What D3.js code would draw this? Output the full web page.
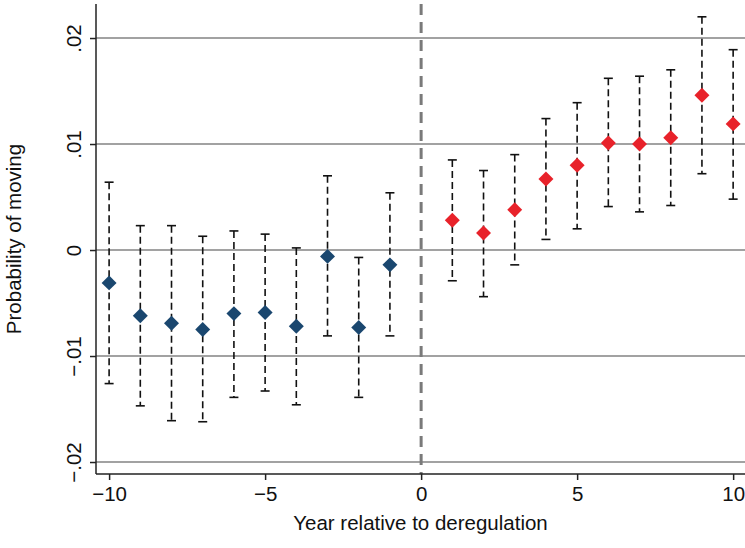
<!DOCTYPE html>
<html>
<head>
<meta charset="utf-8">
<script src="https://cdn.jsdelivr.net/npm/d3@7"></script>
<style>
  body { margin: 0; background: #fff; }
  text { font-family: "Liberation Sans", Arial, Helvetica, sans-serif; }
</style>
</head>
<body>
<div class="chart"></div>
<script>
// leads (before deregulation) and lags (after)
const preYears = [-10, -9, -8, -7, -6, -5, -4, -3, -2, -1];
const preCoef  = [-0.0031, -0.0062, -0.0069, -0.0075, -0.0060, -0.0059, -0.0072, -0.0006, -0.0073, -0.0014];
const preLo    = [-0.0126, -0.0147, -0.0161, -0.0162, -0.0139, -0.0133, -0.0146, -0.0081, -0.0139, -0.0081];
const preHi    = [ 0.0064,  0.0023,  0.0023,  0.0013,  0.0018,  0.0015,  0.0002,  0.0070, -0.0007,  0.0054];

const postYears = [1, 2, 3, 4, 5, 6, 7, 8, 9, 10];
const postCoef  = [0.0028, 0.0016, 0.0038, 0.0067, 0.0080, 0.0101, 0.0100, 0.0106, 0.0146, 0.0119];
const postLo    = [-0.0029, -0.0044, -0.0014, 0.0010, 0.0020, 0.0041, 0.0036, 0.0042, 0.0072, 0.0048];
const postHi    = [0.0085, 0.0075, 0.0090, 0.0124, 0.0139, 0.0162, 0.0164, 0.0170, 0.0220, 0.0189];

const xTicks = [-10, -5, 0, 5, 10];
const yTicks = [-0.02, -0.01, 0, 0.01, 0.02];
const yTickLabels = ["\u2212.02", "\u2212.01", "0", ".01", ".02"];

const W = 745, H = 548;
const margin = ({top: 4, right: 0, bottom: 74, left: 96});
const width = W - margin.left - margin.right;
const height = H - margin.top - margin.bottom;

const xScale = d3.scaleLinear().domain([-10.42, 10.38]).range([0, width]);
const yScale = d3.scaleLinear().domain([-0.02113, 0.02321]).range([height, 0]);

const svg = d3.select('.chart').append('svg')
    .attr('width', W).attr('height', H)
    .append('g')
    .attr('transform', `translate(${margin.left},${margin.top})`);

// gridlines
svg.selectAll('.grid').data(yTicks).enter().append('line')
    .attr('x1', 0).attr('x2', width)
    .attr('y1', d => yScale(d)).attr('y2', d => yScale(d))
    .attr('stroke', '#a2a2a2').attr('stroke-width', 2);

// deregulation line
svg.append('line')
    .attr('x1', xScale(0)).attr('x2', xScale(0))
    .attr('y1', 0).attr('y2', height)
    .attr('stroke', '#7a7a7a').attr('stroke-width', 3)
    .attr('stroke-dasharray', '11,7');

// axes
const xAxis = d3.axisBottom(xScale).tickValues(xTicks).tickSize(6).tickPadding(6)
    .tickFormat(d => d < 0 ? '\u2212' + Math.abs(d) : d);
const yAxis = d3.axisLeft(yScale).tickValues(yTicks).tickSize(6)
    .tickFormat((d, i) => yTickLabels[i]);

const gx = svg.append('g').attr('transform', `translate(0,${height})`).call(xAxis);
gx.select('.domain').attr('d', `M0,0H${width}`).attr('stroke', '#222').attr('stroke-width', 1.5);
gx.selectAll('.tick line').attr('stroke', '#222').attr('stroke-width', 1.5);
gx.selectAll('.tick text').attr('font-size', 20.5).attr('fill', '#111')
    .attr('font-family', '"Liberation Sans", Arial, sans-serif');

const gy = svg.append('g').call(yAxis);
gy.select('.domain').attr('d', `M0,0V${height}`).attr('stroke', '#222').attr('stroke-width', 1.5);
gy.selectAll('.tick line').attr('stroke', '#222').attr('stroke-width', 1.5);
gy.selectAll('.tick text')
    .attr('font-size', 20.5).attr('fill', '#111')
    .attr('font-family', '"Liberation Sans", Arial, sans-serif')
    .attr('x', null).attr('dy', null)
    .attr('text-anchor', 'middle')
    .attr('transform', 'translate(-15,0) rotate(-90)');

// axis titles
svg.append('text')
    .attr('x', width / 2)
    .attr('y', height + 56)
    .attr('text-anchor', 'middle')
    .attr('font-size', 20.5).attr('fill', '#111')
    .text('Year relative to deregulation');

svg.append('text')
    .attr('transform', `translate(${-75},${height / 2}) rotate(-90)`)
    .attr('text-anchor', 'middle')
    .attr('font-size', 20.5).attr('fill', '#111')
    .text('Probability of moving');

// series
const pre = preYears.map((y, i) => ({year: y, coef: preCoef[i], lo: preLo[i], hi: preHi[i]}));
const post = postYears.map((y, i) => ({year: y, coef: postCoef[i], lo: postLo[i], hi: postHi[i]}));
const capW = 4.5;
const diamond = d3.symbol().type(d3.symbolSquare).size(112);

function drawSeries(data, color) {
    const g = svg.append('g');
    g.selectAll('.whisker').data(data).enter().append('line')
        .attr('x1', d => xScale(d.year)).attr('x2', d => xScale(d.year))
        .attr('y1', d => yScale(d.hi)).attr('y2', d => yScale(d.lo))
        .attr('stroke', '#111').attr('stroke-width', 1.6)
        .attr('stroke-dasharray', '7,4');
    g.selectAll('.capHi').data(data).enter().append('line')
        .attr('x1', d => xScale(d.year) - capW).attr('x2', d => xScale(d.year) + capW)
        .attr('y1', d => yScale(d.hi)).attr('y2', d => yScale(d.hi))
        .attr('stroke', '#111').attr('stroke-width', 1.6);
    g.selectAll('.capLo').data(data).enter().append('line')
        .attr('x1', d => xScale(d.year) - capW).attr('x2', d => xScale(d.year) + capW)
        .attr('y1', d => yScale(d.lo)).attr('y2', d => yScale(d.lo))
        .attr('stroke', '#111').attr('stroke-width', 1.6);
    g.selectAll('path.pt').data(data).enter().append('path')
        .attr('class', 'pt')
        .attr('d', diamond)
        .attr('transform', d => `translate(${xScale(d.year)},${yScale(d.coef)}) rotate(45)`)
        .attr('fill', color);
}

drawSeries(pre, '#1a476f');
drawSeries(post, '#e8222a');
</script>
</body>
</html>
